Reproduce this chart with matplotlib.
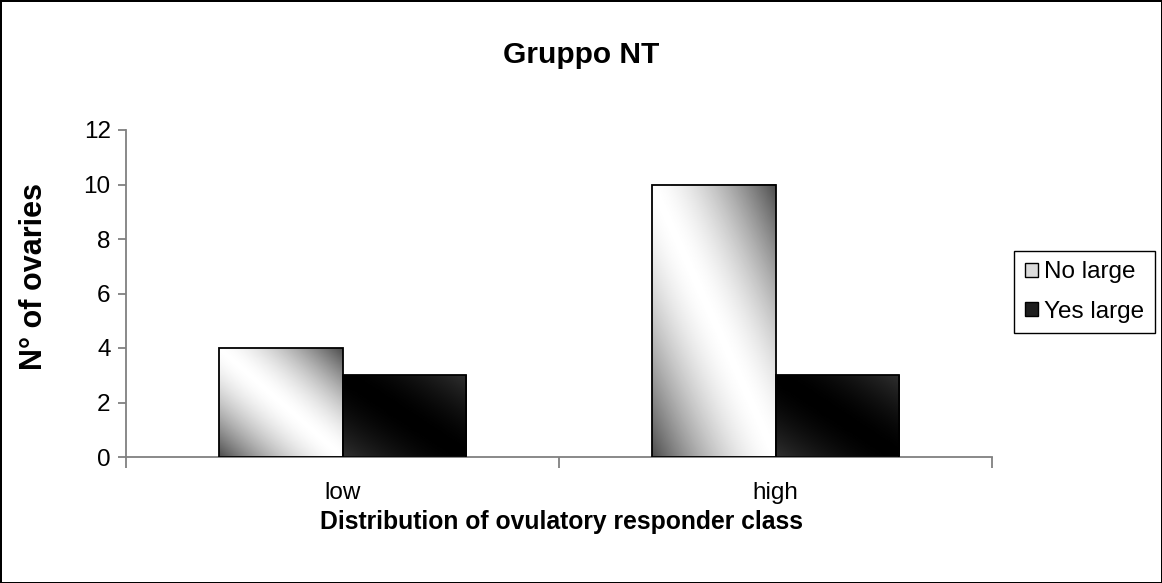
import numpy as np
import matplotlib
matplotlib.use('Agg')
import matplotlib.pyplot as plt
from matplotlib.patches import Patch

# data
categories = ['low', 'high']
series_names = ['No large', 'Yes large']
no_large = [4, 10]
yes_large = [3, 3]
y_ticks = [0, 2, 4, 6, 8, 10, 12]

plt.rcParams['font.family'] = ['Liberation Sans', 'DejaVu Sans']

W, H = 1162, 583
fig = plt.figure(figsize=(W / 100, H / 100), dpi=100)
fig.patch.set_facecolor('white')
fig.patch.set_edgecolor('black')
fig.patch.set_linewidth(2)

ax = fig.add_axes([126 / W, 1 - 457 / H, (992 - 126) / W, (457 - 130) / H])

x = np.arange(len(categories))
bw = 0.286


def gradient(end, mid, n=200):
    # diagonal gradient: light/dark band from top-left to bottom-right corner
    xs = np.linspace(0, 1, n)
    xn, yn = np.meshgrid(xs, xs)
    u = (xn + yn) / 2.0
    d = np.abs(u - 0.5) * 2
    return end + (mid - end) * (1 - d ** 1.6)


bars1 = ax.bar(x - bw / 2, no_large, bw, facecolor='none', edgecolor='black',
               linewidth=1.3, zorder=3)
bars2 = ax.bar(x + bw / 2, yes_large, bw, facecolor='none', edgecolor='black',
               linewidth=1.3, zorder=3)

for bars, (end, mid) in [(bars1, (0.3, 1.0)), (bars2, (0.19, 0.0))]:
    g = gradient(end, mid)
    for b in bars:
        x0, w, h = b.get_x(), b.get_width(), b.get_height()
        ax.imshow(g, cmap='gray', vmin=0, vmax=1, origin='lower',
                  extent=(x0, x0 + w, 0, h), aspect='auto',
                  interpolation='bilinear', zorder=2)

ax.set_xlim(-0.5, len(categories) - 0.5)
ax.set_ylim(0, 12)
ax.set_yticks(y_ticks)
ax.set_xticks(x)
ax.set_xticklabels(categories)
ax.set_xticks(np.arange(len(categories) + 1) - 0.5, minor=True)

for s in ['top', 'right']:
    ax.spines[s].set_visible(False)
for s in ['left', 'bottom']:
    ax.spines[s].set_color('#808080')
    ax.spines[s].set_linewidth(1.3)

ax.tick_params(axis='y', length=6, width=1.3, color='#808080', labelsize=17.5, pad=5)
ax.tick_params(axis='x', which='major', length=0, labelsize=17.5, pad=18)
ax.tick_params(axis='x', which='minor', length=8, width=1.3, color='#808080')

fig.text(0.5, 1 - 55 / H, 'Gruppo NT', ha='center', va='center',
         fontsize=21.5, fontweight='bold')
fig.text(561 / W, 1 - 522 / H, 'Distribution of ovulatory responder class',
         ha='center', va='center', fontsize=17.8, fontweight='bold')
fig.text(34 / W, 1 - 276 / H, 'N° of ovaries', ha='center', va='center',
         rotation=90, fontsize=22, fontweight='bold')

handles = [Patch(facecolor='#dcdcdc', edgecolor='black', linewidth=1),
           Patch(facecolor='#1e1e1e', edgecolor='black', linewidth=1)]
leg = fig.legend(handles, series_names, loc='center left',
                 bbox_to_anchor=(1014 / W, 1 - 292 / H),
                 fontsize=17.5, frameon=True, fancybox=False, edgecolor='black',
                 framealpha=1, handlelength=0.55, handleheight=0.55,
                 handletextpad=0.25, labelspacing=0.7, borderpad=0.45,
                 borderaxespad=0)
leg.get_frame().set_linewidth(1)

fig.savefig('out.png', dpi=100)
